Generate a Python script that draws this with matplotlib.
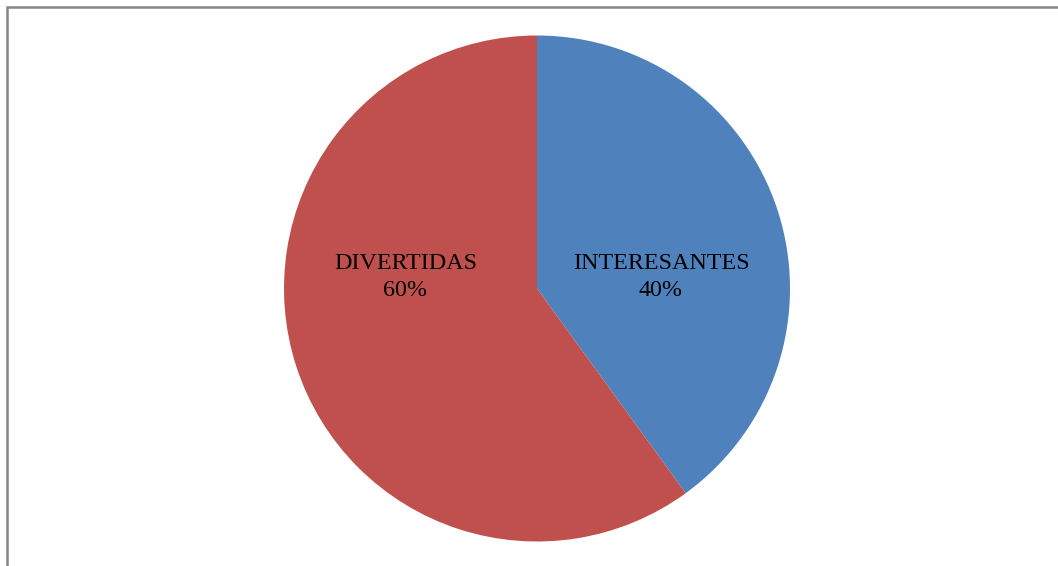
import matplotlib
matplotlib.use('Agg')
import matplotlib.pyplot as plt
import matplotlib.patches as mpatches
import numpy as np

# ── Data ──────────────────────────────────────────────
categories = ['INTERESANTES', 'DIVERTIDAS']
shares     = [40, 60]
colors     = ['#4F81BD', '#C0504D']

W, H, DPI = 1058, 566, 100
CX, CY, R = 537, 288.5, 253   # pie centre / radius in pixels

fig = plt.figure(figsize=(W / DPI, H / DPI), dpi=DPI)
fig.patch.set_facecolor('white')

# chart area frame (only left and top edges are visible)
frame = mpatches.Rectangle((7 / W, -0.1), 1.2, (H - 7) / H + 0.1,
                           transform=fig.transFigure, fill=False,
                           edgecolor='#858585', linewidth=1.8)
fig.add_artist(frame)

ax = fig.add_axes([(CX - R) / W, (H - CY - R) / H, 2 * R / W, 2 * R / H])
wedges, _ = ax.pie(shares, colors=colors, startangle=90, counterclock=False,
                   radius=1, wedgeprops=dict(linewidth=0))
ax.set_xlim(-1, 1)
ax.set_ylim(-1, 1)
ax.axis('off')

# labels: category name + percentage, placed on each wedge side
total = sum(shares)
label_x = [0.49, -0.52]
for cat, val, lx in zip(categories, shares, label_x):
    ax.text(lx, 0.046, f'{cat}\n{val / total:.0%}', ha='center', va='center',
            fontsize=17.3, family='Liberation Serif', color='black',
            linespacing=1.38)

fig.savefig('out.png', dpi=DPI, facecolor='white')
